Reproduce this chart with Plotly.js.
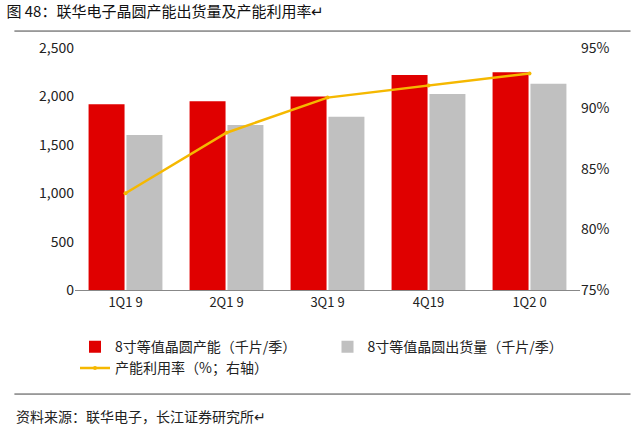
<!DOCTYPE html>
<html>
<head>
<meta charset="utf-8">
<script src="https://cdn.plot.ly/plotly-3.0.1.min.js"></script>
<style>body{margin:0}#chart{width:640px;height:428px}</style>
</head>
<body>
<div id="chart"></div>
<script>
var quarters = ['1Q1 9', '2Q1 9', '3Q1 9', '4Q19', '1Q2 0'];
var capacity = [1920, 1950, 2000, 2220, 2250];
var shipments = [1600, 1705, 1790, 2025, 2130];
var utilization = [83.0, 88.0, 90.9, 91.9, 92.9];

var data = [
  {x: quarters, y: capacity, type: 'bar', name: '8寸等值晶圆产能（千片/季）',
   marker: {color: '#e00000'}},
  {x: quarters, y: shipments, type: 'bar', name: '8寸等值晶圆出货量（千片/季）',
   marker: {color: '#c0c0c0'}},
  {x: quarters, y: utilization, type: 'scatter', mode: 'lines+markers', yaxis: 'y2',
   name: '产能利用率（%；右轴）',
   line: {color: '#f5b800', width: 2.5}, marker: {size: 4, color: '#f5b800'}}
];

var layout = {
  width: 640, height: 428,
  paper_bgcolor: 'white', plot_bgcolor: 'white',
  font: {family: 'Noto Sans CJK SC, sans-serif', size: 13, color: '#222'},
  margin: {l: 75, r: 60, t: 48, b: 138},
  barmode: 'group', bargap: 0.25, bargroupgap: 0.05,
  showlegend: true,
  title: {text: '图 48：联华电子晶圆产能出货量及产能利用率↵', x: 0.01, xanchor: 'left', y: 0.985,
          font: {size: 15, color: '#111'}},
  xaxis: {showline: true, linecolor: '#888', ticks: '', tickfont: {size: 13}},
  yaxis: {range: [0, 2500], dtick: 500, tickformat: ',', showgrid: false, showline: false,
          ticks: '', tickfont: {size: 14}},
  yaxis2: {overlaying: 'y', side: 'right', range: [75, 95], dtick: 5, ticksuffix: '%',
           showgrid: false, tickfont: {size: 14}},
  legend: {orientation: 'h', x: 0.0, xanchor: 'left', y: -0.17, yanchor: 'top',
           entrywidth: 0.5, entrywidthmode: 'fraction', font: {size: 14}, traceorder: 'normal'},
  shapes: [
    {type: 'line', xref: 'paper', yref: 'paper', x0: -0.12, x1: 1.1, y0: 1.07, y1: 1.07,
     line: {color: '#444', width: 1}},
    {type: 'line', xref: 'paper', yref: 'paper', x0: -0.12, x1: 1.1, y0: -0.43, y1: -0.43,
     line: {color: '#444', width: 1}}
  ],
  annotations: [
    {text: '资料来源：联华电子，长江证券研究所↵', xref: 'paper', yref: 'paper', x: -0.12, y: -0.47,
     xanchor: 'left', yanchor: 'top', showarrow: false, font: {size: 14}}
  ]
};

Plotly.newPlot('chart', data, layout, {displayModeBar: false});
</script>
</body>
</html>
